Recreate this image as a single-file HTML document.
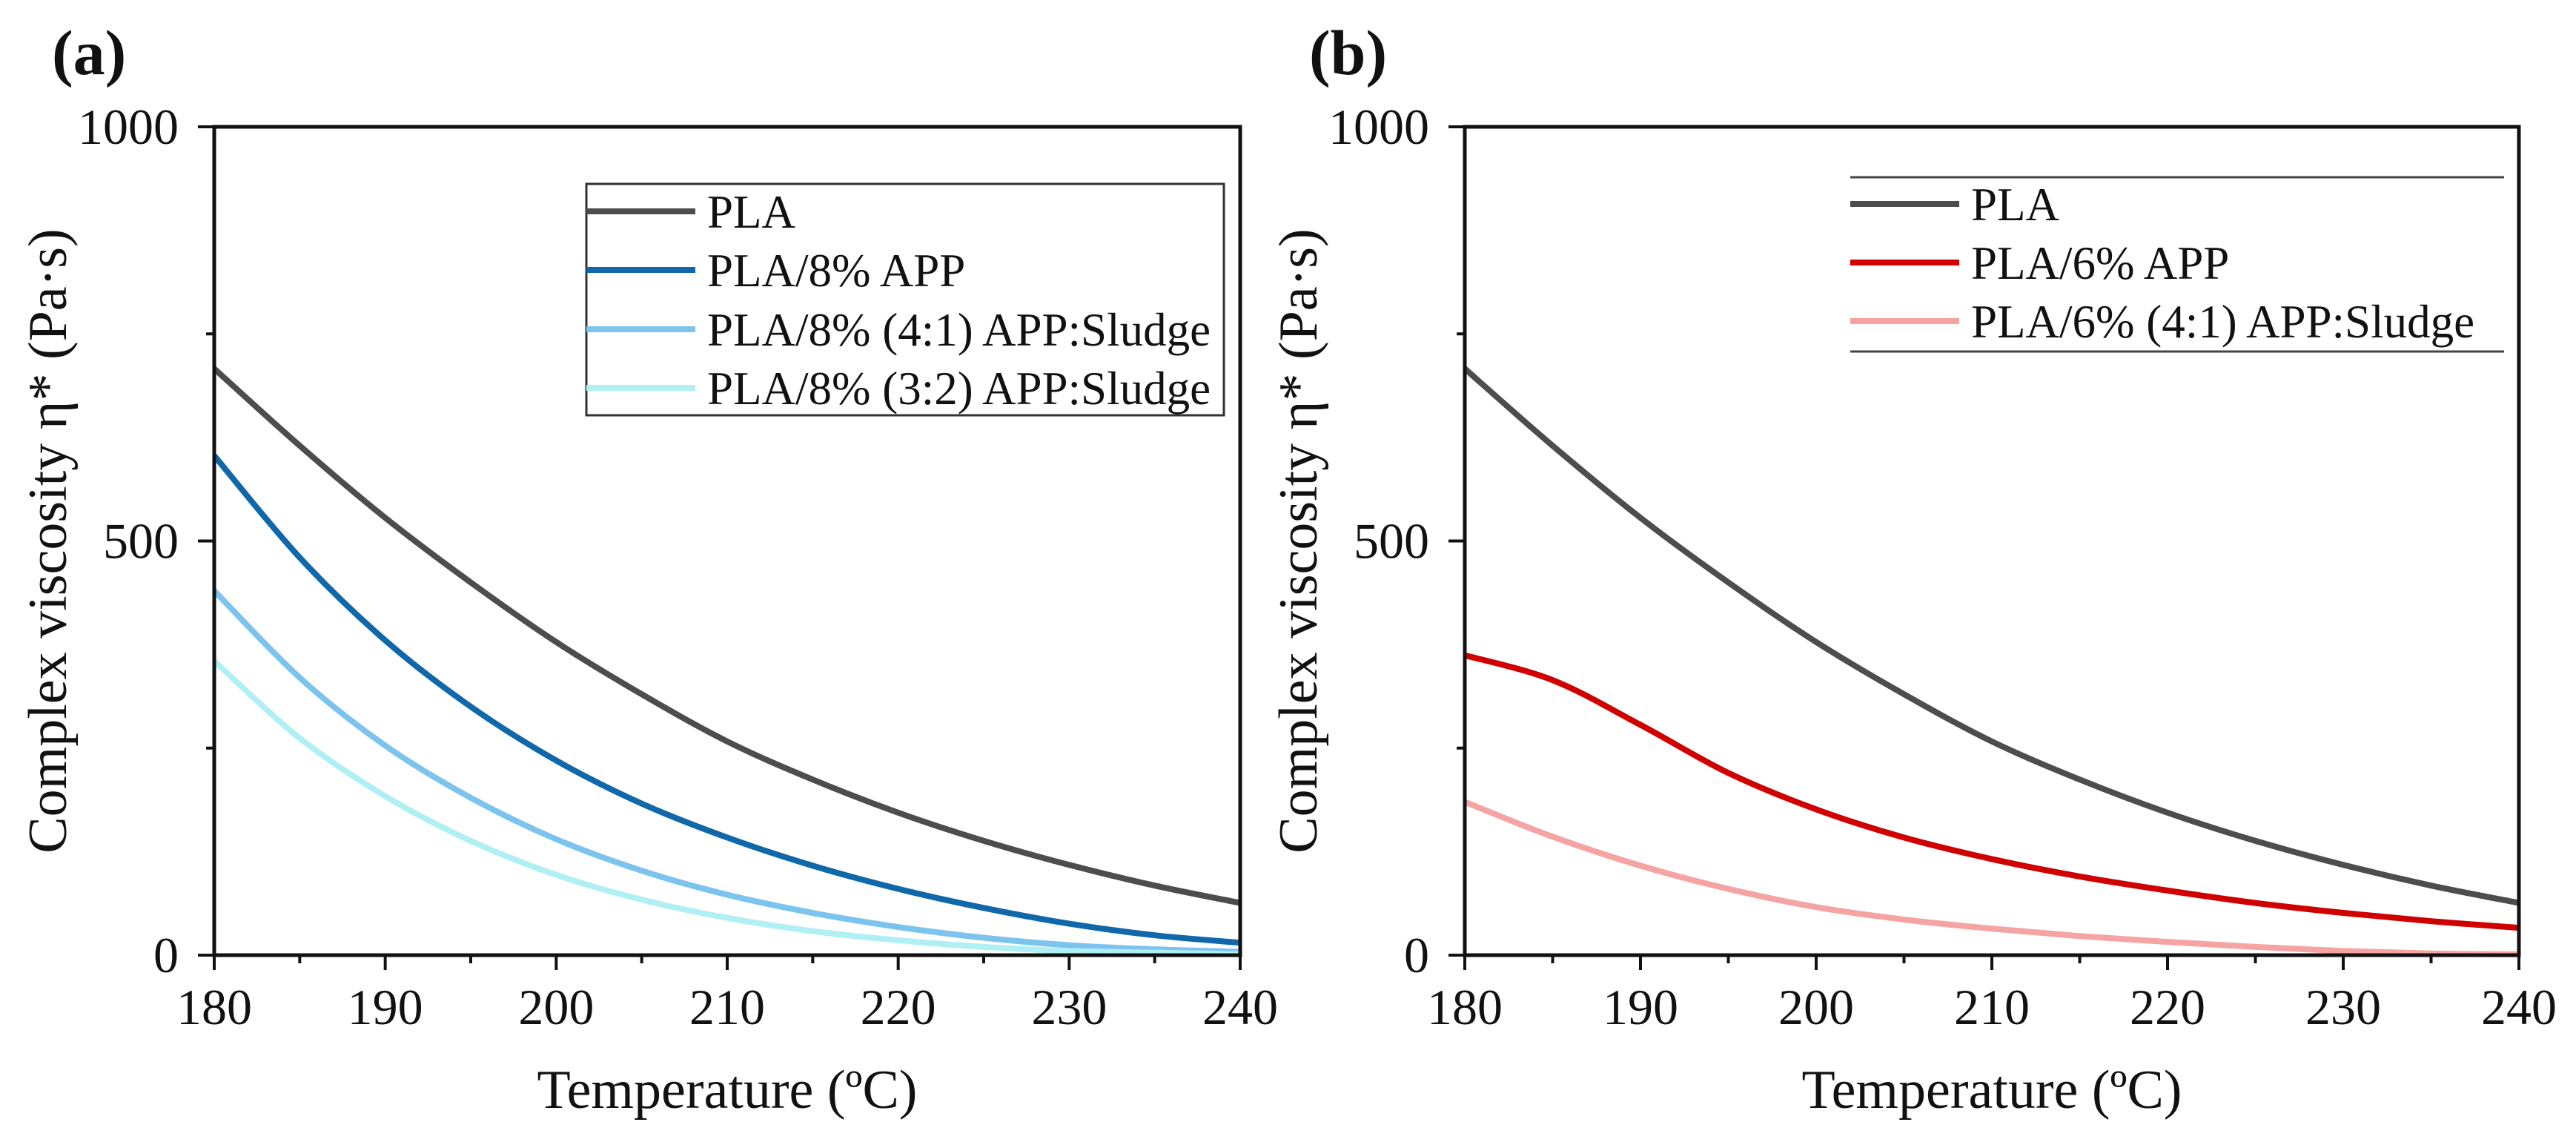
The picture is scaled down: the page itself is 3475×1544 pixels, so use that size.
<!DOCTYPE html>
<html><head><meta charset="utf-8"><style>
html,body{margin:0;padding:0;background:#fff}
svg text{font-family:"Liberation Serif",serif;fill:#111}
</style></head><body>
<svg id="chart" width="3475" height="1539" viewBox="0 0 3475 1539" xmlns="http://www.w3.org/2000/svg"></svg>
<script>
const temps = [180,185,190,195,200,205,210,215,220,225,230,235,240];
const xTicks = [180,190,200,210,220,230,240];
const yTicks = [0,500,1000];
const plaA = [708,615,528,450,378,315,258,212,172,138,109,84,63];
const app8 = [603,480,380,300,235,183,142,108,80,57,38,24,15];
const app8s41 = [440,335,253,190,140,102,73,51,34,21,12,7,4];
const app8s32 = [355,262,192,138,97,67,45,29,18,10,5,3,1];
const plaB = [708,615,528,450,378,315,258,212,172,138,109,84,63];
const app6 = [362,332,278,220,176,142,116,95,78,63,51,41,33];
const app6s41 = [185,143,108,80,58,43,32,23,16,10,5,2,1];
const labelsA = ["PLA","PLA/8% APP","PLA/8% (4:1) APP:Sludge","PLA/8% (3:2) APP:Sludge"];
const labelsB = ["PLA","PLA/6% APP","PLA/6% (4:1) APP:Sludge"];

const svg = document.getElementById('chart');
const NS = "http://www.w3.org/2000/svg";
function mk(tag, attrs, parent){const e=document.createElementNS(NS,tag);for(const k in attrs)e.setAttribute(k,attrs[k]);(parent||svg).appendChild(e);return e;}
function smooth(pts){let d=`M${pts[0][0]},${pts[0][1]}`;for(let i=0;i<pts.length-1;i++){const p0=pts[Math.max(0,i-1)],p1=pts[i],p2=pts[i+1],p3=pts[Math.min(pts.length-1,i+2)];
const c1=[p1[0]+(p2[0]-p0[0])/6,p1[1]+(p2[1]-p0[1])/6],c2=[p2[0]-(p3[0]-p1[0])/6,p2[1]-(p3[1]-p1[1])/6];d+=` C${c1[0]},${c1[1]} ${c2[0]},${c2[1]} ${p2[0]},${p2[1]}`;}return d;}

function panel(id, L, R, T, B, series, colors, labels, tag, tagX, leg){
  const g = mk('g',{});
  
  
  const xs = v => L + (v-180)/(240-180)*(R-L);
  const ys = v => B - v/1000*(B-T);
  series.forEach((s,i)=>{
    const p = mk('path',{d:smooth(temps.map((t,j)=>[xs(t),ys(s[j])])),fill:'none',stroke:colors[i],'stroke-width':8,'stroke-linejoin':'round'},g);
    
    
  });
  const fr = mk('rect',{x:L,y:T,width:R-L,height:B-T,fill:'none',stroke:'#111','stroke-width':5},g);
  
  
  for(let v=180; v<=240; v+=5){
    const major = xTicks.includes(v);
    const tk = mk('line',{x1:xs(v),x2:xs(v),y1:B,y2:B+(major?20:11),stroke:'#111','stroke-width':4},g);
    
    
  }
  xTicks.forEach(v=>{
    const t = mk('text',{x:xs(v),y:1381,'text-anchor':'middle','font-size':68},g);
    t.textContent = v;
    
    
  });
  for(let v=0; v<=1000; v+=250){
    const major = yTicks.includes(v);
    const tk = mk('line',{x1:L,x2:L-(major?22:11),y1:ys(v),y2:ys(v),stroke:'#111','stroke-width':4},g);
    
    
  }
  yTicks.forEach(v=>{
    const t = mk('text',{x:L-48,y:ys(v)+23,'text-anchor':'end','font-size':68},g);
    t.textContent = v;
    
    
  });
  const xt = mk('text',{x:(L+R)/2,y:1494,'text-anchor':'middle','font-size':74},g);
  xt.textContent = 'Temperature (ºC)';
  
  
  const yt = mk('text',{x:0,y:0,'text-anchor':'middle','font-size':74,transform:`translate(${L-200},${(T+B)/2}) rotate(-90)`},g);
  yt.textContent = 'Complex viscosity η* (Pa·s)';
  
  
  const pl = mk('text',{x:tagX,y:100,'font-size':86,'font-weight':'bold'},g);
  pl.textContent = tag;
  
  
  const lg = mk('g',{},g);
  
  
  if(leg.box){
    mk('rect',{x:leg.x1,y:leg.y1,width:leg.x2-leg.x1,height:leg.y2-leg.y1,fill:'#fff',stroke:'#333','stroke-width':3},lg);
  } else {
    mk('line',{x1:leg.x1,x2:leg.x2,y1:leg.y1,y2:leg.y1,stroke:'#444','stroke-width':3},lg);
    mk('line',{x1:leg.x1,x2:leg.x2,y1:leg.y2,y2:leg.y2,stroke:'#444','stroke-width':3},lg);
  }
  labels.forEach((lab,i)=>{
    const y = leg.rows[i];
    const e = mk('g',{},lg);
    
    
    mk('line',{x1:leg.x1,x2:leg.x1+147,y1:y,y2:y,stroke:colors[i],'stroke-width':8},e);
    const t = mk('text',{x:leg.x1+163,y:y+22,'font-size':63},e);
    t.textContent = lab;
  });
}
panel('panel-a',289,1673,171,1288,[plaA,app8,app8s41,app8s32],['#4d4d4d','#1068aa','#7cc4ee','#b0f0f4'],labelsA,'(a)',70,
  {box:true,x1:791,x2:1651,y1:248,y2:560,rows:[285,364,444,523]});
panel('panel-b',1976,3398,171,1288,[plaB,app6,app6s41],['#4d4d4d','#d00000','#f5a3a3'],labelsB,'(b)',1766,
  {box:false,x1:2496,x2:3378,y1:239,y2:474,rows:[275,354,433]});
</script>
</body></html>
